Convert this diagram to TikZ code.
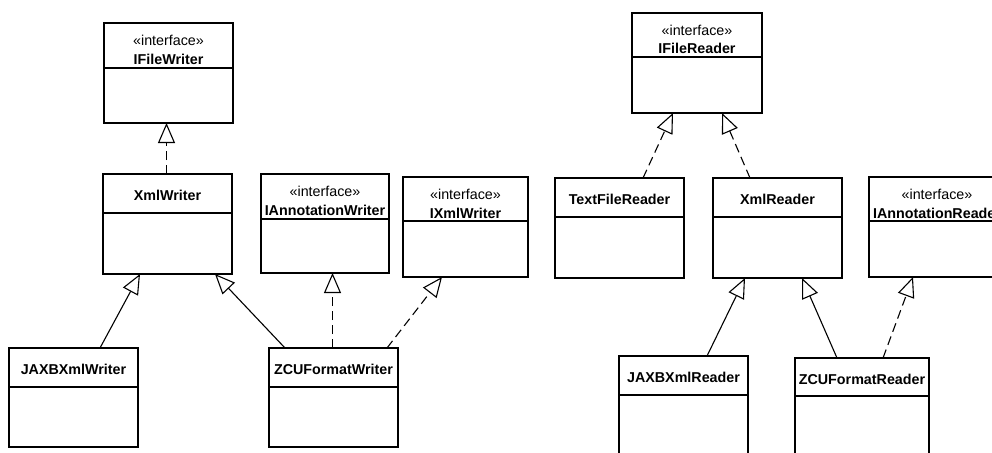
\documentclass[tikz,border=0pt]{standalone}
\usepackage{fontspec}
\setmainfont{Liberation Sans}
\usetikzlibrary{positioning,calc,arrows.meta}

\begin{document}
\begin{tikzpicture}[x=1pt, y=-1pt, line width=1.1pt,
        head/.style={draw, rectangle, anchor=north west, outer sep=0pt, inner sep=0pt, text height=26pt, text depth=13pt, align=center, font=\fontsize{14.3}{18.5}\selectfont\bfseries},
        iface/.style={head, text height=41pt, text depth=4pt},
        body/.style={draw, rectangle, outer sep=0pt, inner sep=0pt},
        impl/.style={dash pattern=on 9pt off 5pt, -{Triangle[open, length=20pt, width=17pt]}},
        extends/.style={-{Triangle[open, length=20pt, width=17pt]}}
    ]
        \useasboundingbox (0,0) rectangle (992,452);

        % writers
        \node [iface, minimum width=129pt] (ifw) at (104,23) {{\mdseries «interface»}\\IFileWriter};
        \node [body, minimum width=129pt, minimum height=55pt, below=0pt of ifw] (ifwb) {};
        \node [head, minimum width=129pt] (xw) at (103,174) {XmlWriter};
        \node [body, minimum width=129pt, minimum height=61pt, below=0pt of xw] (xwb) {};
        \node [iface, minimum width=128pt] (iaw) at (261,174) {{\mdseries «interface»}\\IAnnotationWriter};
        \node [body, minimum width=128pt, minimum height=54pt, below=0pt of iaw] (iawb) {};
        \node [iface, minimum width=125pt, text depth=3pt] (ixw) at (403,177) {{\mdseries «interface»}\\IXmlWriter};
        \node [body, minimum width=125pt, minimum height=56pt, below=0pt of ixw] (ixwb) {};
        \node [head, minimum width=129pt] (jxw) at (9,348) {JAXBXmlWriter};
        \node [body, minimum width=129pt, minimum height=60pt, below=0pt of jxw] (jxwb) {};
        \node [head, minimum width=129pt] (zcuw) at (269,348) {ZCUFormatWriter};
        \node [body, minimum width=129pt, minimum height=60pt, below=0pt of zcuw] (zcuwb) {};

        % readers
        \node [iface, minimum width=130pt, text depth=3pt] (ifr) at (632,13) {{\mdseries «interface»}\\IFileReader};
        \node [body, minimum width=130pt, minimum height=56pt, below=0pt of ifr] (ifrb) {};
        \node [head, minimum width=129pt] (tfr) at (555,178) {TextFileReader};
        \node [body, minimum width=129pt, minimum height=61pt, below=0pt of tfr] (tfrb) {};
        \node [head, minimum width=129pt] (xr) at (713,178) {XmlReader};
        \node [body, minimum width=129pt, minimum height=61pt, below=0pt of xr] (xrb) {};
        \node [iface, minimum width=136pt, text depth=3pt] (iar) at (869,177) {{\mdseries «interface»}\\IAnnotationReader};
        \node [body, minimum width=136pt, minimum height=56pt, below=0pt of iar] (iarb) {};
        \node [head, minimum width=129pt] (jxr) at (619,356) {JAXBXmlReader};
        \node [body, minimum width=129pt, minimum height=62pt, below=0pt of jxr] (jxrb) {};
        \node [head, minimum width=134pt, text depth=12pt] (zcur) at (795,358) {ZCUFormatReader};
        \node [body, minimum width=134pt, minimum height=62pt, below=0pt of zcur] (zcurb) {};

        \draw [impl] ([xshift=63.5pt]xw.north west) -- ([xshift=62.5pt]ifwb.south west);
        \draw [extends] ([xshift=91pt]jxw.north west) -- ([xshift=37pt]xwb.south west);
        \draw [extends] ([xshift=16pt]zcuw.north west) -- ([xshift=112pt]xwb.south west);
        \draw [impl] ([xshift=63.5pt]zcuw.north west) -- ([xshift=71.5pt]iawb.south west);
        \draw [impl] ([xshift=118pt]zcuw.north west) -- ([xshift=39pt]ixwb.south west);

        \draw [impl] ([xshift=88pt]tfr.north west) -- ([xshift=41pt]ifrb.south west);
        \draw [impl] ([xshift=37pt]xr.north west) -- ([xshift=90pt]ifrb.south west);
        \draw [extends] ([xshift=88pt]jxr.north west) -- ([xshift=32pt]xrb.south west);
        \draw [extends] ([xshift=42pt]zcur.north west) -- ([xshift=89pt]xrb.south west);
        \draw [impl] ([xshift=88pt]zcur.north west) -- ([xshift=44pt]iarb.south west);
\end{tikzpicture}
\end{document}
